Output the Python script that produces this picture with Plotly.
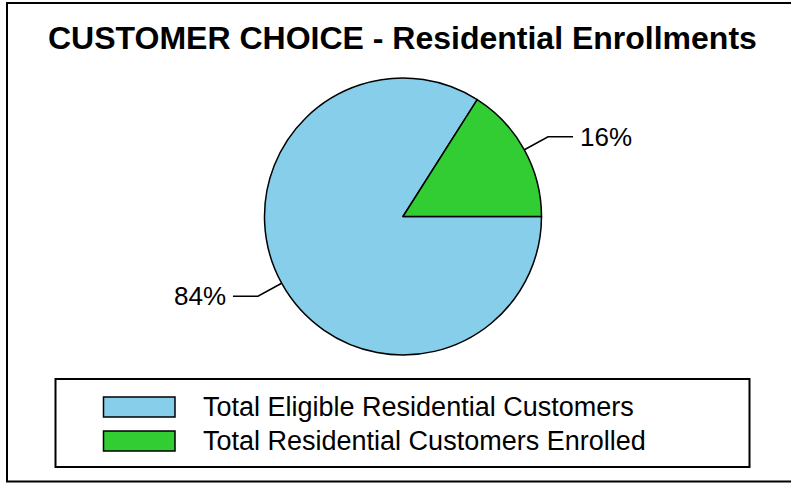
import math
import plotly.graph_objects as go

# ---- data ----
labels = ["Total Eligible Residential Customers", "Total Residential Customers Enrolled"]
values = [84, 16]
colors = ["#87CEEB", "#32CD32"]
title_text = "CUSTOMER CHOICE - Residential Enrollments"

W, H = 791, 483
CX, CY, R = 403.0, 216.5, 138.5
FONT = "Liberation Sans, Arial, sans-serif"

def px(x):
    return x / W

def py(y):
    return 1 - y / H

fig = go.Figure(go.Pie(
    labels=labels,
    values=values,
    sort=False,
    direction="clockwise",
    rotation=90,
    marker=dict(colors=colors, line=dict(color="black", width=1.5)),
    textinfo="none",
    hoverinfo="label+percent",
    showlegend=False,
    domain=dict(x=[px(CX - R), px(CX + R)], y=[py(CY + R), py(CY - R)]),
))

shapes = []
annotations = []

# outer frame
shapes.append(dict(type="rect", xref="paper", yref="paper",
                   x0=px(7), x1=1.02, y0=py(481.5), y1=py(3),
                   line=dict(color="black", width=2)))

# percentage labels with leader lines, computed from slice mid-angles
total = sum(values)
start = 0.0  # degrees, standard orientation (3 o'clock), going clockwise
for v in values:
    span = v / total * 360.0
    mid = start - span / 2.0
    start -= span
    a = math.radians(mid)
    ca, sa = math.cos(a), math.sin(a)
    ex, ey = CX + R * ca, CY - R * sa
    bx, by = ex + 27 * ca, ey - 27 * sa
    side = 1 if ca >= 0 else -1
    hx = bx + side * 25
    shapes.append(dict(type="path", xref="paper", yref="paper",
                       path=f"M {px(ex)},{py(ey)} L {px(bx)},{py(by)} L {px(hx)},{py(by)}",
                       line=dict(color="black", width=1.5)))
    annotations.append(dict(xref="paper", yref="paper",
                            x=px(hx + side * 5), y=py(by),
                            xanchor="left" if side > 0 else "right", yanchor="middle",
                            text=f"{round(v / total * 100)}%", showarrow=False,
                            font=dict(family=FONT, size=26, color="black")))

# legend box
shapes.append(dict(type="rect", xref="paper", yref="paper",
                   x0=px(55.5), x1=px(749.5), y0=py(467), y1=py(379),
                   line=dict(color="black", width=2)))
row_y = [407, 441]
for i, (lab, col) in enumerate(zip(labels, colors)):
    yc = row_y[i]
    shapes.append(dict(type="rect", xref="paper", yref="paper",
                       x0=px(103.5), x1=px(175), y0=py(yc + 10), y1=py(yc - 10),
                       fillcolor=col, line=dict(color="black", width=1.5)))
    annotations.append(dict(xref="paper", yref="paper", x=px(201), y=py(yc),
                            xanchor="left", yanchor="middle", text=lab,
                            showarrow=False,
                            font=dict(family=FONT, size=27, color="black")))

# title
annotations.append(dict(xref="paper", yref="paper", x=px(402), y=py(38),
                        xanchor="center", yanchor="middle",
                        text=f"<b>{title_text}</b>", showarrow=False,
                        font=dict(family=FONT, size=32, color="black")))

fig.update_layout(
    width=W, height=H,
    margin=dict(l=0, r=0, t=0, b=0),
    paper_bgcolor="white", plot_bgcolor="white",
    shapes=shapes, annotations=annotations,
    showlegend=False,
)

fig.write_html(
    "out.html",
    config={"displayModeBar": False},
    post_script="document.body.style.margin='0';document.body.style.overflow='hidden';",
)
